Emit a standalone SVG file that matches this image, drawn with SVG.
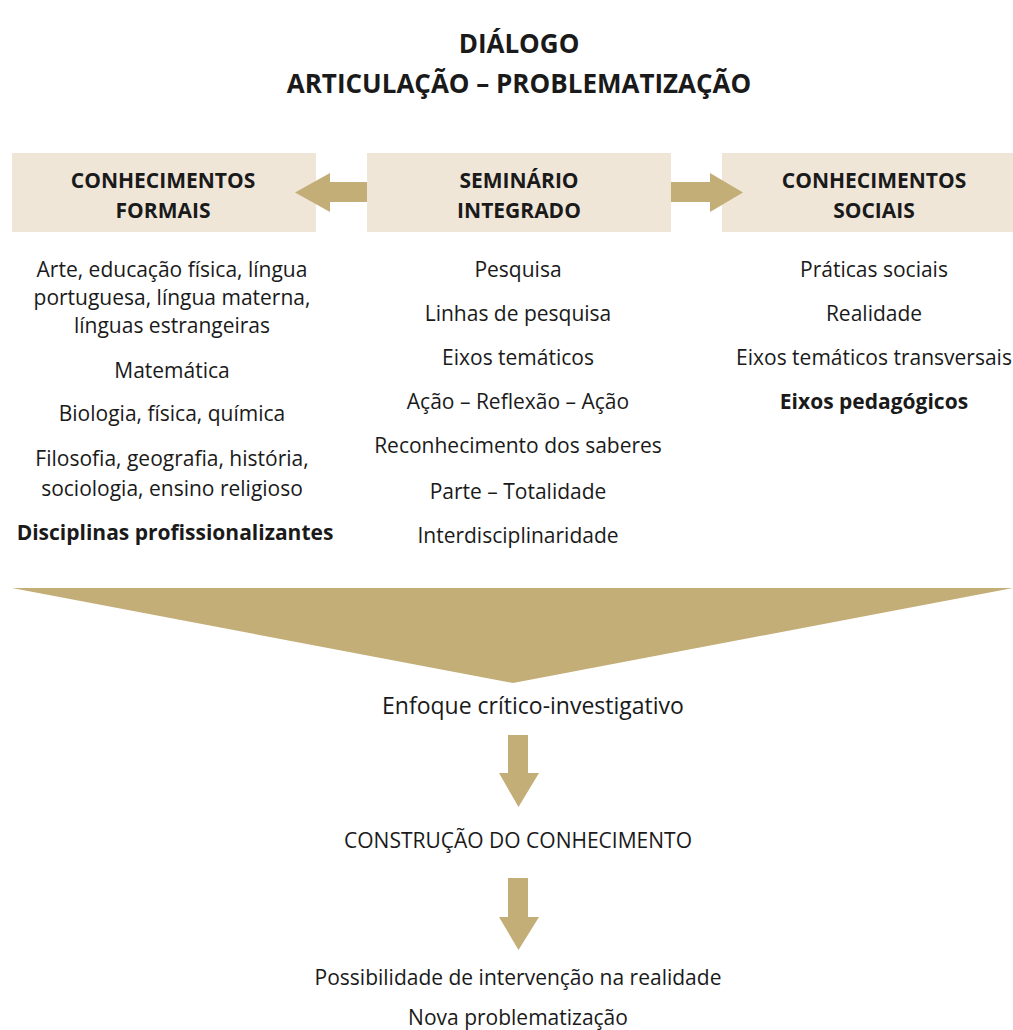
<svg xmlns="http://www.w3.org/2000/svg" width="1013" height="1030" viewBox="0 0 1013 1030">
  <style>
    .t { font-family: "Open Sans", "Noto Sans", "DejaVu Sans", sans-serif; font-size: 21px; fill: #1a1a1a; text-anchor: middle; }
    .b { font-weight: bold; }
    .title { font-size: 26px; font-weight: bold; }
    .cond { font-size: 23px; }
    .box { fill: #EFE6D8; }
    .arr { fill: #C4AE78; }
  </style>

  <!-- title -->
  <g id="title">
    <text class="t title" x="519" y="53">DIÁLOGO</text>
    <text class="t title" x="519" y="93">ARTICULAÇÃO – PROBLEMATIZAÇÃO</text>
  </g>

  <!-- header boxes -->
  <g id="formais">
    <rect class="box" x="12" y="153" width="304" height="79"/>
    <text class="t b" x="163" y="188">CONHECIMENTOS</text>
    <text class="t b" x="163" y="218">FORMAIS</text>
  </g>
  <g id="seminario">
    <rect class="box" x="367" y="153" width="304" height="79"/>
    <text class="t b" x="519" y="188">SEMINÁRIO</text>
    <text class="t b" x="519" y="218">INTEGRADO</text>
  </g>
  <g id="sociais">
    <rect class="box" x="722" y="153" width="291" height="79"/>
    <text class="t b" x="874" y="188">CONHECIMENTOS</text>
    <text class="t b" x="874" y="218">SOCIAIS</text>
  </g>

  <!-- column lists -->
  <g id="lista-formais">
    <text class="t" x="172" y="277">Arte, educação física, língua</text>
    <text class="t" x="172" y="305">portuguesa, língua materna,</text>
    <text class="t" x="172" y="333">línguas estrangeiras</text>
    <text class="t" x="172" y="378">Matemática</text>
    <text class="t" x="172" y="421">Biologia, física, química</text>
    <text class="t" x="172" y="466">Filosofia, geografia, história,</text>
    <text class="t" x="172" y="496">sociologia, ensino religioso</text>
    <text class="t b" x="175" y="540">Disciplinas profissionalizantes</text>
  </g>
  <g id="lista-seminario">
    <text class="t" x="518" y="277">Pesquisa</text>
    <text class="t" x="518" y="321">Linhas de pesquisa</text>
    <text class="t" x="518" y="365">Eixos temáticos</text>
    <text class="t" x="518" y="409">Ação – Reflexão – Ação</text>
    <text class="t" x="518" y="453">Reconhecimento dos saberes</text>
    <text class="t" x="518" y="499">Parte – Totalidade</text>
    <text class="t" x="518" y="543">Interdisciplinaridade</text>
  </g>
  <g id="lista-sociais">
    <text class="t" x="874" y="277">Práticas sociais</text>
    <text class="t" x="874" y="321">Realidade</text>
    <text class="t" x="874" y="365">Eixos temáticos transversais</text>
    <text class="t b" x="874" y="409">Eixos pedagógicos</text>
  </g>

  <!-- lower sequence -->
  <g id="enfoque">
    <text class="t cond" x="533" y="714">Enfoque crítico-investigativo</text>
  </g>
  <g id="construcao">
    <text class="t" x="518" y="848">CONSTRUÇÃO DO CONHECIMENTO</text>
  </g>
  <g id="intervencao">
    <text class="t" x="518" y="985">Possibilidade de intervenção na realidade</text>
    <text class="t" x="518" y="1025">Nova problematização</text>
  </g>

  <!-- connectors -->
  <g id="connectors">
    <polygon class="arr" points="367,182 330,182 330,173 295,192.5 330,212 330,202 367,202"/>
    <polygon class="arr" points="671,182 710,182 710,173 743,192.5 710,212 710,202 671,202"/>
    <polygon class="arr" points="12,588 1013,588 513,683"/>
    <polygon class="arr" points="508,735 528,735 528,773 539,773 518.5,807 499,773 508,773"/>
    <polygon class="arr" points="508,878 528,878 528,917 539,917 518.5,950 499,917 508,917"/>
  </g>
</svg>
